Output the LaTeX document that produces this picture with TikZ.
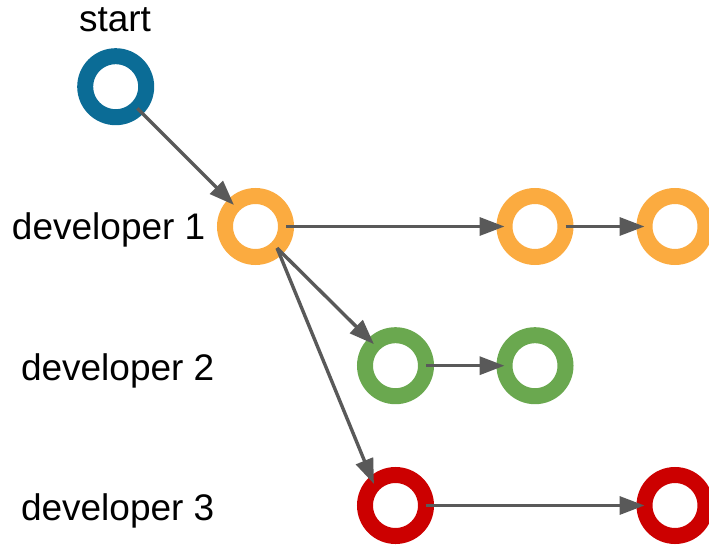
\documentclass[tikz,border=0pt]{standalone}
\usepackage{fontspec}
\setmainfont{Liberation Sans}
\usetikzlibrary{arrows.meta}

\definecolor{commitblue}{RGB}{11,108,150}
\definecolor{commitorange}{RGB}{251,171,64}
\definecolor{commitgreen}{RGB}{106,168,79}
\definecolor{commitred}{RGB}{204,0,0}
\definecolor{linkgrey}{RGB}{89,89,89}

\tikzset{
  commit/.style={circle, draw=#1, line width=16pt, fill=white,
    minimum size=61pt, inner sep=0pt, outer sep=0pt},
  lbl/.style={anchor=base west, inner sep=0pt, outer sep=0pt,
    font=\fontsize{37}{43}\selectfont},
  link/.style={draw=linkgrey, line width=3.4pt,
    -{Triangle[length=25pt,width=18pt]}}
}

\begin{document}
\begin{tikzpicture}[x=1pt, y=-1pt]
  \useasboundingbox (0,0) rectangle (709,545);

  % branch labels
  \node[lbl] (tstart) at (79,32) {start};
  \node[lbl] (tdev1) at (12,239.5) {developer 1};
  \node[lbl] (tdev2) at (21,380.5) {developer 2};
  \node[lbl] (tdev3) at (21,520.5) {developer 3};

  % commits
  \node[commit=commitblue]   (s)  at (115.7,86.7) {};
  \node[commit=commitorange] (o1) at (255.5,226.5) {};
  \node[commit=commitorange] (o2) at (535,226.5) {};
  \node[commit=commitorange] (o3) at (675,226.5) {};
  \node[commit=commitgreen]  (g1) at (395.5,365.7) {};
  \node[commit=commitgreen]  (g2) at (535,365.7) {};
  \node[commit=commitred]    (r1) at (395.5,505.5) {};
  \node[commit=commitred]    (r2) at (675,505.5) {};

  % history links
  \draw[link] (s.south east) -- (o1.north west);
  \draw[link] (o1.east) -- (o2.west);
  \draw[link] (o2.east) -- (o3.west);
  \draw[link] (o1.south east) -- (g1.north west);
  \draw[link] (o1.south east) -- (r1.north west);
  \draw[link] (g1.east) -- (g2.west);
  \draw[link] (r1.east) -- (r2.west);
\end{tikzpicture}
\end{document}
